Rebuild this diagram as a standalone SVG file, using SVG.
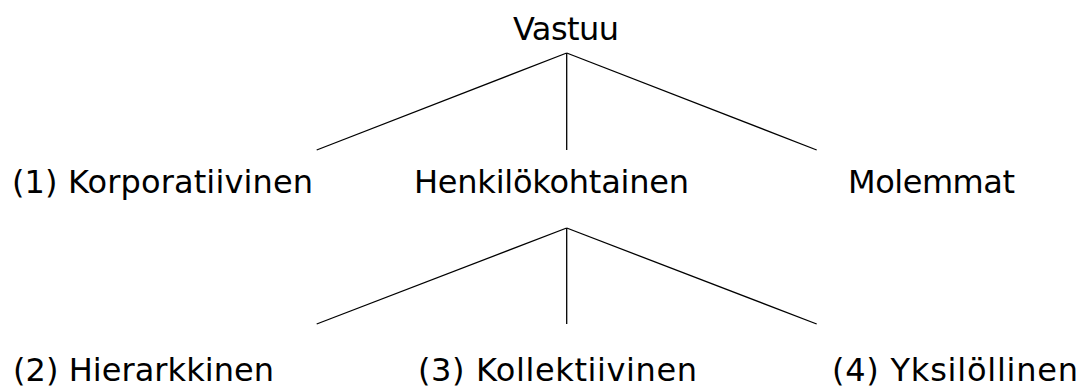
<svg xmlns="http://www.w3.org/2000/svg" width="1082" height="389" viewBox="0 0 1082 389">
  <style>
    .lbl { font-family: "DejaVu Sans", Verdana, sans-serif; font-size: 32px; fill: #000; }
    .edge { stroke: #000; stroke-width: 1.3; fill: none; }
  </style>
  <rect width="1082" height="389" fill="#fff"/>
  <g id="connectors">
    <line class="edge" x1="566.7" y1="53" x2="316.7" y2="150"/>
    <line class="edge" x1="566.7" y1="53" x2="566.7" y2="150"/>
    <line class="edge" x1="566.7" y1="53" x2="816.7" y2="150"/>
    <line class="edge" x1="566.7" y1="228" x2="316.7" y2="324"/>
    <line class="edge" x1="566.7" y1="228" x2="566.7" y2="324"/>
    <line class="edge" x1="566.7" y1="228" x2="816.7" y2="324"/>
  </g>
  <g id="vastuu"><text class="lbl" x="513" y="40" textLength="106" lengthAdjust="spacing">Vastuu</text></g>
  <g id="korporatiivinen"><text class="lbl" x="12" y="193" textLength="301" lengthAdjust="spacing">(1) Korporatiivinen</text></g>
  <g id="henkilokohtainen"><text class="lbl" x="414" y="193" textLength="275" lengthAdjust="spacing">Henkilökohtainen</text></g>
  <g id="molemmat"><text class="lbl" x="848" y="193" textLength="167" lengthAdjust="spacing">Molemmat</text></g>
  <g id="hierarkkinen"><text class="lbl" x="13" y="381" textLength="261" lengthAdjust="spacing">(2) Hierarkkinen</text></g>
  <g id="kollektiivinen"><text class="lbl" x="418" y="381" textLength="279" lengthAdjust="spacing">(3) Kollektiivinen</text></g>
  <g id="yksilollinen"><text class="lbl" x="832" y="381" textLength="246" lengthAdjust="spacing">(4) Yksilöllinen</text></g>
</svg>
